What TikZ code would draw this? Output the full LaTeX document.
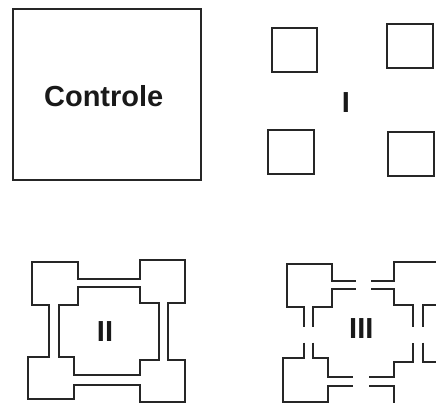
\documentclass[tikz,border=0pt]{standalone}
\usepackage{fontspec}
\setmainfont{Liberation Sans}
\begin{document}
\begin{tikzpicture}[x=1pt,y=-1pt,
  wall/.style={draw=black!85, line width=1.8pt, line join=miter},
  lbl/.style={font=\bfseries\fontsize{29}{29}\selectfont, anchor=base, inner sep=0pt, text=black!90}]
\useasboundingbox (0,0) rectangle (436,403);
\clip (0,0) rectangle (436,403);
% Controle
\draw[wall] (13.3,9.3) rectangle (200.7,180);
\node[lbl] (ctrl) at (103.7,106.7) {Controle};
% I
\draw[wall] (271.7,28.3) rectangle (317.3,71.7);
\draw[wall] (386.7,24.3) rectangle (432.7,68.3);
\draw[wall] (267.7,130) rectangle (313.7,174);
\draw[wall] (388.3,132) rectangle (434.3,175.7);
\node[lbl] (one) at (346,112.3) {I};
% II
\draw[wall] (32.3,262.3) -- (78,262.3) -- (78,279.3) -- (140,279.3) -- (140,260.3) -- (185.3,260.3) -- (185.3,303) -- (168.3,303) -- (168.3,360) -- (185.3,360) -- (185.3,402.3) -- (140,402.3) -- (140,384.7) -- (74,384.7) -- (74,399.3) -- (28.3,399.3) -- (28.3,356.7) -- (49.3,356.7) -- (49.3,305.3) -- (32.3,305.3) -- cycle;
\draw[wall] (78,287) -- (140,287) -- (140,303) -- (158.7,303) -- (158.7,360) -- (140,360) -- (140,375.3) -- (74,375.3) -- (74,356.7) -- (58.7,356.7) -- (58.7,305.3) -- (78,305.3) -- cycle;
\node[lbl] (two) at (105,341.7) {II};
% III
\draw[wall] (355.7,281) -- (332.3,281) -- (332.3,263.7) -- (286.7,263.7) -- (286.7,307.3) -- (303.7,307.3) -- (303.7,326.7);
\draw[wall] (313.3,326.7) -- (313.3,307.3) -- (332.3,307.3) -- (332.3,288.7) -- (355.7,288.7);
\draw[wall] (371,281) -- (394,281) -- (394,262.3) -- (440,262.3);
\draw[wall] (371,288.7) -- (394,288.7) -- (394,305.3) -- (413.3,305.3) -- (413.3,326.7);
\draw[wall] (422.7,326.7) -- (422.7,305.3) -- (440,305.3);
\draw[wall] (303.7,342.7) -- (303.7,357.7) -- (283.3,357.7) -- (283.3,401.7) -- (328.3,401.7) -- (328.3,386) -- (353.3,386);
\draw[wall] (313.3,342.7) -- (313.3,357.7) -- (328.3,357.7) -- (328.3,377) -- (353.3,377);
\draw[wall] (369.3,377) -- (394,377) -- (394,362) -- (413.3,362) -- (413.3,342.7);
\draw[wall] (422.7,342.7) -- (422.7,362) -- (440,362);
\draw[wall] (369.3,386) -- (394,386) -- (394,410);
\node[lbl] (three) at (361.3,338.3) {III};
\end{tikzpicture}
\end{document}
